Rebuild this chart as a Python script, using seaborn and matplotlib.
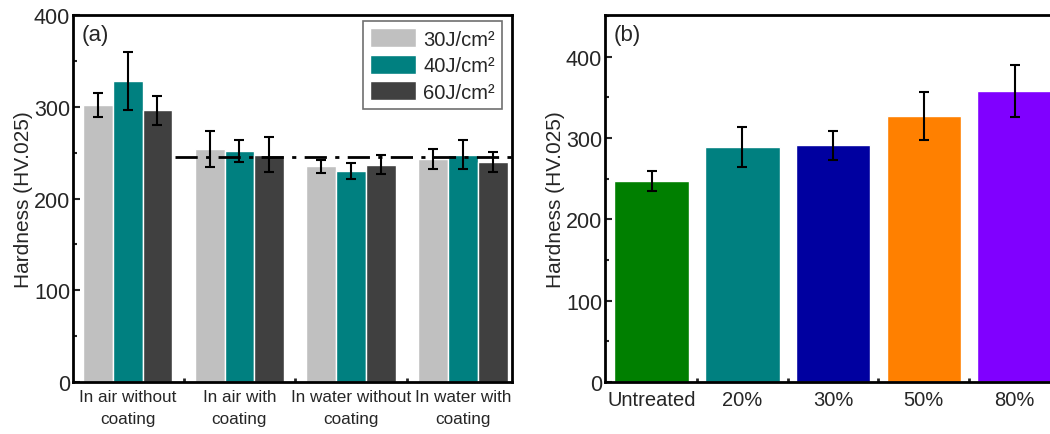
"""
Hardness of treated samples - two panel bar chart
"""

# %% --------------------------------------------------------------------------
# Imports
# -----------------------------------------------------------------------------
import numpy as np
import pandas as pd
import matplotlib
matplotlib.use("Agg")
import matplotlib.pyplot as plt
import seaborn as sns
from matplotlib.ticker import MultipleLocator, FixedLocator

# %% --------------------------------------------------------------------------
# Data
# -----------------------------------------------------------------------------
conditions = ["In air without\ncoating", "In air with\ncoating",
              "In water without\ncoating", "In water with\ncoating"]
fluences = ["30J/cm²", "40J/cm²", "60J/cm²"]
hard_30 = [302, 254, 235, 243]
hard_40 = [328, 252, 230, 248]
hard_60 = [296, 248, 237, 240]
err_30 = [13, 20, 7, 11]
err_40 = [32, 12, 9, 16]
err_60 = [16, 19, 10, 11]
untreated_level = 245

coverage = ["Untreated", "20%", "30%", "50%", "80%"]
hard_cov = [247, 289, 291, 327, 358]
err_cov = [12, 25, 18, 30, 32]

fluence_colors = ["#C0C0C0", "#008080", "#404040"]
coverage_colors = ["#007F00", "#008080", "#0000A0", "#FF8000", "#8000FF"]

# %% --------------------------------------------------------------------------
# Style
# -----------------------------------------------------------------------------
sns.set_theme(style="ticks")
plt.rcParams["font.family"] = ["Liberation Sans", "DejaVu Sans"]

df_a = pd.DataFrame({
    "condition": conditions * 3,
    "fluence": np.repeat(fluences, len(conditions)),
    "hardness": hard_30 + hard_40 + hard_60,
})
errs_a = [err_30, err_40, err_60]

df_b = pd.DataFrame({"coverage": coverage, "hardness": hard_cov})

fig = plt.figure(figsize=(10.5, 4.35), dpi=100)
ax1 = fig.add_axes([0.0695, 0.1195, 0.4181, 0.8435])
ax2 = fig.add_axes([0.5762, 0.1195, 0.4298, 0.8435])

# %% --------------------------------------------------------------------------
# Panel (a)
# -----------------------------------------------------------------------------
sns.barplot(data=df_a, x="condition", y="hardness", hue="fluence",
            palette=fluence_colors, saturation=1, width=0.8, ax=ax1,
            errorbar=None)
for cont, err in zip(ax1.containers, errs_a):
    xs = [p.get_x() + p.get_width() / 2 for p in cont]
    ys = [p.get_height() for p in cont]
    ax1.errorbar(xs, ys, yerr=err, fmt="none", ecolor="black",
                 elinewidth=1.5, capsize=3.5, capthick=1.5, zorder=5)

ax1.plot([0.42, 3.44], [untreated_level, untreated_level], color="black",
         lw=2, ls=(0, (8, 3, 1.5, 3)), zorder=4)

ax1.set_xlim(-0.49, 3.44)
ax1.set_ylim(0, 400)
ax1.yaxis.set_major_locator(MultipleLocator(100))
ax1.yaxis.set_minor_locator(MultipleLocator(50))
ax1.xaxis.set_minor_locator(FixedLocator([0.5, 1.5, 2.5]))
ax1.tick_params(axis="x", which="major", length=0, labelsize=12.3, pad=5)
ax1.tick_params(axis="x", which="minor", direction="in", length=3, width=2)
ax1.tick_params(axis="y", which="both", direction="in", labelsize=15.5,
                width=1.5, pad=2)
ax1.tick_params(axis="y", which="major", length=5)
ax1.tick_params(axis="y", which="minor", length=3)
for lbl in ax1.get_xticklabels():
    lbl.set_linespacing(1.55)
ax1.set_xlabel("")
ax1.set_ylabel("Hardness (HV.025)", fontsize=15, labelpad=1)
ax1.text(0.02, 0.975, "(a)", transform=ax1.transAxes, fontsize=16,
         va="top", ha="left")

leg = ax1.legend(loc="upper right", bbox_to_anchor=(0.977, 0.984),
                 borderaxespad=0, fontsize=14.5, handlelength=2.3,
                 handleheight=1.1, labelspacing=0.3, handletextpad=0.35,
                 borderpad=0.35, fancybox=False, framealpha=1,
                 edgecolor="#707070")
leg.get_frame().set_linewidth(1.2)

# %% --------------------------------------------------------------------------
# Panel (b)
# -----------------------------------------------------------------------------
sns.barplot(data=df_b, x="coverage", y="hardness", hue="coverage",
            palette=coverage_colors, saturation=1, width=0.82, ax=ax2,
            errorbar=None, legend=False)
xs = [c[0].get_x() + c[0].get_width() / 2 for c in ax2.containers]
ys = [c[0].get_height() for c in ax2.containers]
ax2.errorbar(xs, ys, yerr=err_cov, fmt="none", ecolor="black",
             elinewidth=1.5, capsize=3.5, capthick=1.5, zorder=5)

ax2.set_xlim(-0.514, 4.46)
ax2.set_ylim(0, 451)
ax2.yaxis.set_major_locator(MultipleLocator(100))
ax2.yaxis.set_minor_locator(MultipleLocator(50))
ax2.xaxis.set_minor_locator(FixedLocator([0.5, 1.5, 2.5, 3.5]))
ax2.tick_params(axis="x", which="major", length=0, labelsize=14.5, pad=6)
ax2.tick_params(axis="x", which="minor", direction="in", length=3, width=2)
ax2.tick_params(axis="y", which="both", direction="in", labelsize=15.5,
                width=1.5, pad=2)
ax2.tick_params(axis="y", which="major", length=5)
ax2.tick_params(axis="y", which="minor", length=3)
ax2.set_xlabel("")
ax2.set_ylabel("Hardness (HV.025)", fontsize=15, labelpad=1)
ax2.text(0.02, 0.975, "(b)", transform=ax2.transAxes, fontsize=16,
         va="top", ha="left")

for ax in (ax1, ax2):
    for side in ["top", "right", "left", "bottom"]:
        ax.spines[side].set_visible(True)
        ax.spines[side].set_linewidth(2)
        ax.spines[side].set_color("black")

fig.savefig("out.png", dpi=100)
